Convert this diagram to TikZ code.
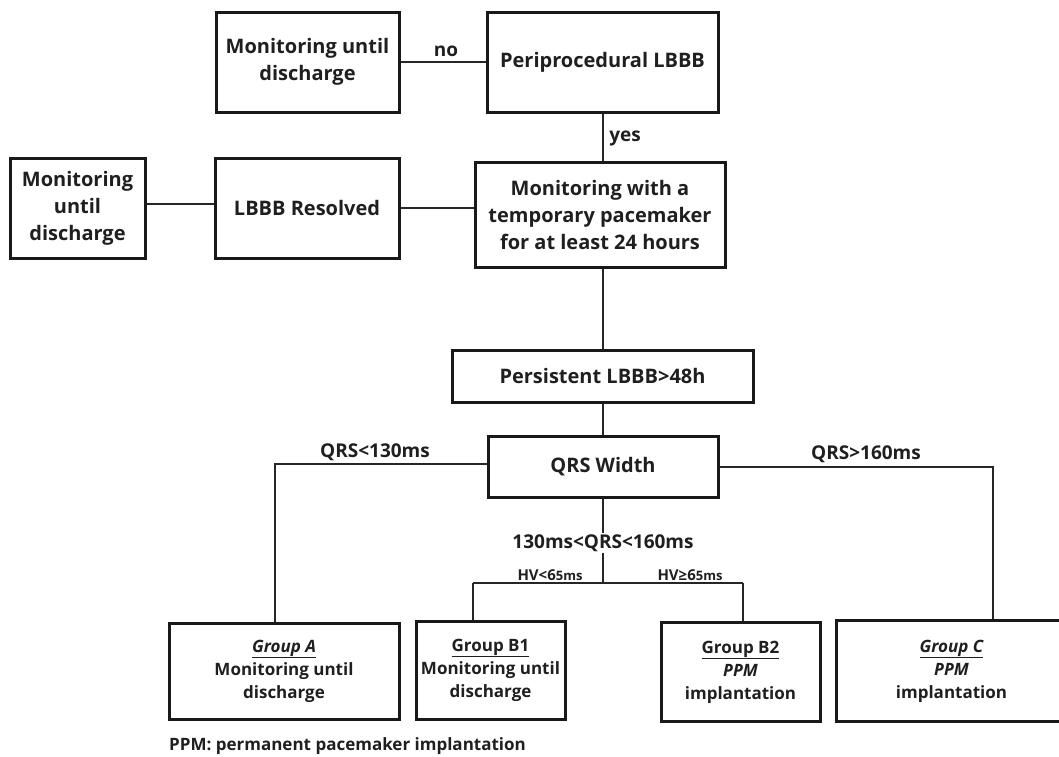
\documentclass[tikz,border=0pt]{standalone}
\usepackage{fontspec}
\setmainfont{Open Sans}
\begin{document}
\begin{tikzpicture}[x=1pt,y=-1pt,
  box/.style={draw=black!90, line width=3pt, align=center, text=black!88, inner sep=0pt,
    font=\fontsize{20}{27}\selectfont\bfseries},
  gbox/.style={box, font=\fontsize{17}{23}\selectfont\bfseries},
  conn/.style={draw=black!85, line width=1.5pt},
  lbl/.style={text=black!88, inner sep=1pt, font=\fontsize{19}{22}\selectfont\bfseries},
  hv/.style={text=black!88, inner sep=1pt, font=\fontsize{15}{18}\selectfont\bfseries, anchor=base}
]
\useasboundingbox (0,0) rectangle (1059,756);
\clip (0,0) rectangle (1059,756);

% nodes
\node[box, minimum width=183pt, minimum height=100pt] (m1) at (307.5,62) {Monitoring until\\discharge};
\node[box, minimum width=231pt, minimum height=100pt] (peri) at (602.5,62) {Periprocedural LBBB};
\node[box, minimum width=135pt, minimum height=100pt] (mleft) at (77.5,208) {Monitoring\\until\\discharge};
\node[box, minimum width=184pt, minimum height=100pt] (res) at (307,208) {LBBB Resolved};
\node[box, minimum width=250pt, minimum height=105pt] (pace) at (600,214.5) {Monitoring with a\\temporary pacemaker\\for at least 24 hours};
\node[box, minimum width=301pt, minimum height=52pt] (pers) at (602.5,376) {Persistent LBBB>48h};
\node[box, minimum width=230pt, minimum height=61pt] (qrs) at (603,466.5) {QRS Width};

\node[gbox, minimum width=230pt, minimum height=96pt] (gA) at (284,671) {\underline{\itshape Group A}\\Monitoring until\\discharge};
\node[gbox, minimum width=149pt, minimum height=98pt] (gB1) at (490.5,670) {\underline{Group B1}\\Monitoring until\\discharge};
\node[gbox, minimum width=159pt, minimum height=99pt] (gB2) at (740.5,672) {\underline{Group B2}\\\itshape PPM\\implantation};
\node[gbox, minimum width=231pt, minimum height=101pt] (gC) at (951.5,671) {\underline{\itshape Group C}\\\itshape PPM\\implantation};

% helper coordinates
\coordinate (vx) at (603,0);
\coordinate (aL) at (275,464);
\coordinate (cR) at (993,467);
\coordinate (split) at (603,583);
\coordinate (sL) at (473,583);
\coordinate (sR) at (743,583);

% labels
\node[lbl] (no) at (446,51) {no};
\node[lbl] (yes) at (625,138) {yes};
\node[lbl] (l130) at (375,452) {QRS<130ms};
\node[lbl] (l160) at (866,454) {QRS>160ms};
\node[lbl, fill=white] (lmid) at (603,543) {130ms<QRS<160ms};
\node[hv] (hvl) at (550,580) {HV<6\fontsize{13}{15}\selectfont 5ms};
\node[hv] (hvr) at (690,580) {HV≥6\fontsize{13}{15}\selectfont 5ms};

% connectors
\draw[conn] (m1.east) -- (peri.west);
\draw[conn] (peri.south -| vx) -- (pace.north -| vx);
\draw[conn] (mleft.east |- 0,204) -- (res.west |- 0,204);
\draw[conn] (res.east) -- (pace.west |- res.east);
\draw[conn] (pace.south -| vx) -- (pers.north -| vx);
\draw[conn] (pers.south -| vx) -- (qrs.north -| vx);
\draw[conn] (qrs.west |- aL) -- (aL) -- (gA.north -| aL);
\draw[conn] (qrs.east |- cR) -- (cR) -- (gC.north -| cR);
\draw[conn] (qrs.south) -- (lmid.north);
\draw[conn] (lmid.south) -- (split);
\draw[conn] (sL) -- (sR);
\draw[conn] (sL) -- (gB1.north -| sL);
\draw[conn] (sR) -- (gB2.north -| sR);

% footnote
\node[text=black!88, anchor=base west, inner sep=0pt, font=\fontsize{17}{20}\selectfont\bfseries] (foot) at (169,750) {PPM: permanent pacemaker implantation};
\end{tikzpicture}
\end{document}
